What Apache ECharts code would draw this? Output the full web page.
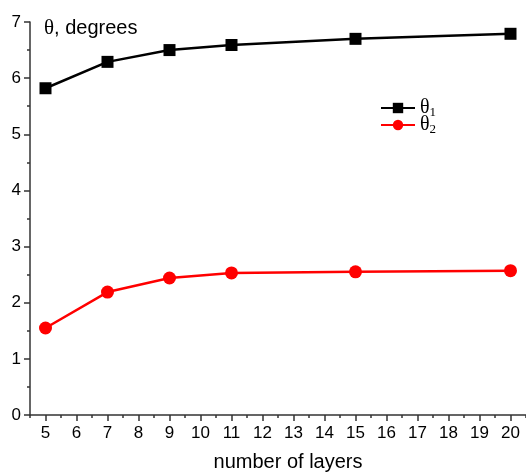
<!DOCTYPE html>
<html>
<head>
<meta charset="utf-8">
<script src="https://cdn.jsdelivr.net/npm/echarts@6/dist/echarts.min.js"></script>
<style>
  html, body { margin: 0; padding: 0; background: #fff; }
  #chart { width: 526px; height: 472px; }
</style>
</head>
<body>
<div id="chart"></div>
<script>
// number of layers
const layers = [5, 7, 9, 11, 15, 20]
// angles, degrees
const theta1 = [5.82, 6.29, 6.5, 6.59, 6.7, 6.79]
const theta2 = [1.55, 2.19, 2.44, 2.53, 2.55, 2.57]
const xTicks = [5, 6, 7, 8, 9, 10, 11, 12, 13, 14, 15, 16, 17, 18, 19, 20]

const font = "'Liberation Sans', Arial, sans-serif"
const serif = "'Liberation Serif', 'Times New Roman', serif"

const pairs = (xs, ys) => xs.map((x, i) => [x, ys[i]])

// one legend per row so the rows sit close together
const legendRow = (name, top) => ({
  left: 375,
  top: top,
  itemWidth: 34,
  itemHeight: 13,
  data: [name],
  formatter: n => "{t|θ}{s|" + n.slice(1) + "}",
  textStyle: {
    rich: {
      t: { fontFamily: serif, fontSize: 20, color: "#000", lineHeight: 18 },
      s: { fontFamily: serif, fontSize: 13, color: "#000", lineHeight: 18, padding: [9, 0, 0, 0] },
    },
  },
})

const chart = echarts.init(document.getElementById("chart"))
const option = {
  animation: false,
  grid: { left: 30, right: 0, top: 22, bottom: 57, outerBoundsMode: "none", containLabel: false },
  legend: [legendRow("θ1", 92), legendRow("θ2", 109)],
  graphic: [
    {
      type: "text",
      left: 44,
      top: 18,
      style: {
        text: "{t|θ}{d|, degrees}",
        rich: {
          t: { fontFamily: serif, fontSize: 21, fill: "#000" },
          d: { fontFamily: font, fontSize: 20, fill: "#000" },
        },
      },
    },
  ],
  xAxis: [
    {
      type: "value",
      min: 4.5,
      max: 20.5,
      name: "number of layers",
      nameLocation: "middle",
      nameGap: 37,
      nameTextStyle: { fontFamily: font, fontSize: 20, color: "#000", padding: [0, 0, 0, 20] },
      axisLine: { show: true, onZero: false, lineStyle: { color: "#333", width: 1.5 } },
      axisTick: { show: true, length: 6, customValues: xTicks, lineStyle: { color: "#333", width: 1.5 } },
      axisLabel: { customValues: xTicks, fontFamily: font, fontSize: 17, color: "#000", margin: 10 },
      splitLine: { show: false },
    },
    {
      type: "value",
      min: 4.5,
      max: 20.5,
      interval: 0.5,
      position: "bottom",
      axisLine: { show: false },
      axisTick: { show: true, length: 3, lineStyle: { color: "#333", width: 1.5 } },
      axisLabel: { show: false },
      splitLine: { show: false },
    },
  ],
  yAxis: {
    type: "value",
    min: 0,
    max: 7,
    interval: 1,
    axisLine: { show: true, lineStyle: { color: "#333", width: 1.5 } },
    axisTick: { show: true, length: 6, lineStyle: { color: "#333", width: 1.5 } },
    minorTick: { show: true, splitNumber: 2, length: 3, lineStyle: { color: "#333", width: 1.5 } },
    axisLabel: { fontFamily: font, fontSize: 17, color: "#000", margin: 9 },
    splitLine: { show: false },
  },
  series: [
    {
      name: "θ1",
      type: "line",
      data: pairs(layers, theta1),
      symbol: "rect",
      symbolSize: 12,
      color: "#000",
      lineStyle: { color: "#000", width: 2.5 },
      itemStyle: { color: "#000" },
    },
    {
      name: "θ2",
      type: "line",
      data: pairs(layers, theta2),
      symbol: "circle",
      symbolSize: 13,
      color: "#ff0000",
      lineStyle: { color: "#ff0000", width: 2.5 },
      itemStyle: { color: "#ff0000" },
    },
  ],
}
chart.setOption(option)
</script>
</body>
</html>
